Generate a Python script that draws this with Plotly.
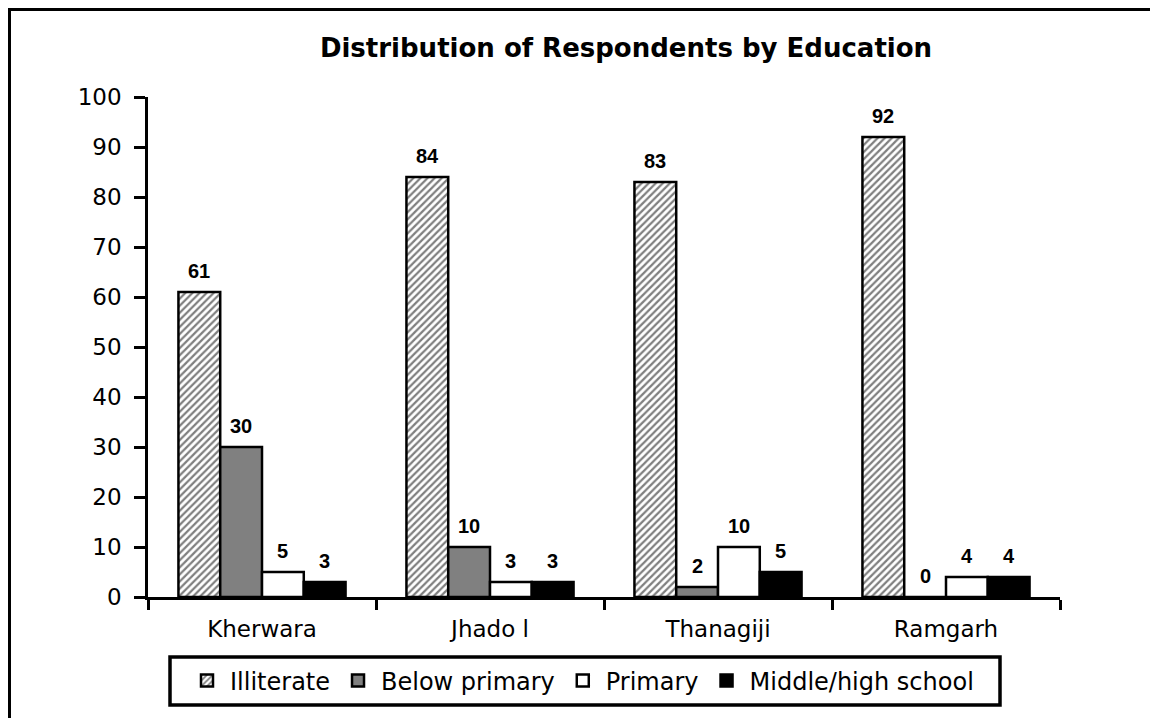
import plotly.graph_objects as go

categories = ["Kherwara", "Jhado l", "Thanagiji", "Ramgarh"]
series_names = ["Illiterate", "Below primary", "Primary", "Middle/high school"]
illiterate = [61, 84, 83, 92]
below_primary = [30, 10, 2, 0]
primary = [5, 3, 10, 4]
middle_high = [3, 3, 5, 4]
y_ticks = [0, 10, 20, 30, 40, 50, 60, 70, 80, 90, 100]

values = [illiterate, below_primary, primary, middle_high]

# page has an 8px body margin; figure coords = page coords - 8
OFF = 8
W, H = 1150, 710
L, T = 148 - OFF, 97 - OFF
plot_w = 1060 - 148
plot_h = 597 - 97
R = W - L - plot_w
B = H - T - plot_h
bargap = 0.267
bar_px = plot_w / len(categories) * (1 - bargap) / len(series_names)


def px2paper_x(px_page):
    return (px_page - OFF - L) / plot_w


def px2paper_y(py_page):
    return (T + plot_h - (py_page - OFF)) / plot_h


fig = go.Figure()
styles = [
    dict(color="white", pattern=dict(shape="/", fgcolor="black", bgcolor="white",
                                     size=5, solidity=0.45, fillmode="overlay")),
    dict(color="#808080"),
    dict(color="white"),
    dict(color="black"),
]
for name, vals, st in zip(series_names, values, styles):
    fig.add_trace(go.Bar(
        x=categories, y=vals, name=name,
        marker=dict(line=dict(color="black", width=2.5), **st),
    ))

annotations = []
for i, vals in enumerate(values):
    for c, v in zip(categories, vals):
        annotations.append(dict(
            x=c, y=v, xref="x", yref="y", text=str(v), showarrow=False,
            xshift=(i - 1.5) * bar_px, yanchor="bottom", yshift=8,
            font=dict(family="Liberation Sans, Arial", size=20, color="black", weight="bold"),
        ))

fig.update_layout(
    width=W, height=H,
    margin=dict(l=L, r=R, t=T, b=B, autoexpand=False),
    paper_bgcolor="white", plot_bgcolor="white",
    barmode="group", bargap=bargap, bargroupgap=0,
    title=dict(
        text="<b>Distribution of Respondents by Education</b>",
        x=(626 - OFF) / W, xanchor="center", y=1 - (48 - OFF) / H, yanchor="middle",
        font=dict(family="DejaVu Sans", size=26, color="black"),
    ),
    font=dict(family="DejaVu Sans", size=23, color="black"),
    xaxis=dict(
        showline=True, linecolor="black", linewidth=2.5,
        ticks="outside", tickson="boundaries", ticklen=10, tickwidth=2.5, tickcolor="black",
        showgrid=False, zeroline=False, ticklabelstandoff=10,
        tickfont=dict(family="DejaVu Sans", size=23, color="black"),
    ),
    yaxis=dict(
        range=[0, 100], tickvals=y_ticks,
        showline=True, linecolor="black", linewidth=2.5,
        ticks="outside", ticklen=11, tickwidth=2.5, tickcolor="black",
        showgrid=False, zeroline=False, ticklabelstandoff=8,
        tickfont=dict(family="DejaVu Sans", size=23, color="black"),
    ),
    legend=dict(
        orientation="h", x=px2paper_x(184), xanchor="left",
        y=px2paper_y(681), yanchor="middle",
        borderwidth=0, bgcolor="rgba(0,0,0,0)",
        font=dict(family="DejaVu Sans", size=24, color="black"),
        itemwidth=36, tracegroupgap=0,
    ),
    annotations=annotations,
    shapes=[
        dict(type="rect", xref="paper", yref="paper",
             x0=px2paper_x(9.5), x1=px2paper_x(1250),
             y0=px2paper_y(780), y1=px2paper_y(9.5),
             line=dict(color="black", width=3), fillcolor="rgba(0,0,0,0)", layer="below"),
        dict(type="rect", xref="paper", yref="paper",
             x0=px2paper_x(170), x1=px2paper_x(1000),
             y0=px2paper_y(705), y1=px2paper_y(657),
             line=dict(color="black", width=3.5), fillcolor="rgba(0,0,0,0)", layer="below"),
    ],
    showlegend=True,
)

fig.write_html("out.html")
